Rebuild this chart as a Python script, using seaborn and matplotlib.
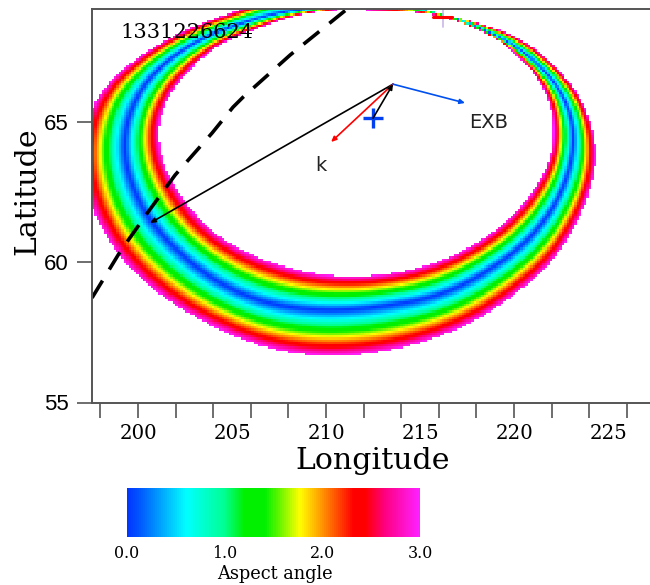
import numpy as np
import pandas as pd
import matplotlib
matplotlib.use('Agg')
import matplotlib.pyplot as plt
import seaborn as sns
from matplotlib.colors import LinearSegmentedColormap

# ring edges and aspect-angle minimum (lon, lat)
outer_lon = [211.01, 213.03, 215.53, 217.82, 220.16, 222.07, 223.51, 224.31, 224.36, 224.20, 223.67, 222.82,
             221.76, 220.69, 219.63, 218.56, 217.50, 215.69, 214.31, 211.01, 205.27, 203.30, 201.54, 200.48,
             199.20, 197.98, 197.40, 197.00, 197.45, 198.09, 199.15, 200.74, 202.50, 204.26, 206.91, 208.72]
outer_lat = [56.73, 56.87, 57.30, 57.94, 59.01, 60.08, 61.76, 63.18, 64.00, 64.71, 65.78, 66.50,
             67.21, 67.82, 68.17, 68.39, 68.57, 68.89, 69.10, 69.53, 68.89, 68.46, 67.92, 67.50,
             66.85, 66.14, 65.43, 64.00, 61.97, 61.26, 60.08, 59.12, 58.30, 57.69, 56.98, 56.76]
inner_lon = [211.01, 213.03, 215.16, 217.50, 219.26, 221.01, 221.91, 222.07, 222.07, 222.02, 221.38, 220.69,
             219.63, 218.56, 217.50, 216.76, 215.69, 214.31, 212.61, 210.21, 209.68, 208.09, 206.33, 204.52,
             202.77, 201.70, 201.01, 201.17, 201.54, 202.50, 203.72, 205.32, 207.45, 209.57]
inner_lat = [59.55, 59.62, 59.90, 60.54, 61.33, 62.58, 63.65, 64.18, 64.71, 65.43, 66.50, 66.96,
             67.67, 68.17, 68.39, 68.64, 68.81, 68.90, 68.92, 68.95, 68.92, 68.71, 68.28, 67.82,
             66.85, 66.03, 64.89, 64.00, 63.18, 62.22, 61.26, 60.54, 59.97, 59.62]
blue_lon = [211.01, 213.40, 216.06, 218.72, 221.01, 222.61, 223.14, 223.09, 222.45, 221.38, 220.16, 219.10,
            217.82, 216.06, 213.94, 211.01, 208.99, 207.18, 205.43, 203.67, 201.86, 200.48, 199.57, 199.20,
            199.47, 200.37, 201.97, 203.94, 206.06, 208.72]
blue_lat = [58.37, 58.55, 58.90, 59.83, 61.04, 62.68, 64.11, 65.18, 66.14, 66.96, 67.64, 68.03,
            68.39, 68.89, 69.08, 69.12, 68.99, 68.81, 68.46, 68.03, 67.32, 66.50, 65.43, 64.00,
            63.18, 61.76, 60.54, 59.47, 58.76, 58.40]

# dashed curve
curve_lon = [197.55, 199.04, 200.53, 201.97, 203.94, 205.05, 205.59, 208.09, 211.12]
curve_lat = [58.73, 60.37, 61.79, 63.11, 64.61, 65.53, 65.89, 67.39, 69.03]

# arrows
apex = (213.56, 66.35)
k_long_tip = (200.64, 61.40)
k_red_tip = (210.27, 64.29)
exb_tip = (217.39, 65.68)
site = (212.50, 65.14)

x_major = [198, 200, 202, 204, 206, 208, 210, 212, 214, 216, 218, 220, 222, 224, 226]
x_labels = [200, 205, 210, 215, 220, 225]
y_labels = [55, 60, 65]
cbar_labels = ['0.0', '1.0', '2.0', '3.0']

# colour scale stops from the colour bar
stops = [(0.0, '#0038ff'), (0.1, '#0050ff'), (0.6, '#00ffff'), (1.0, '#00ff90'), (1.2, '#00f000'), (1.42, '#00f000'),
         (1.77, '#ffff00'), (2.32, '#ff0000'), (2.45, '#ff0000'), (2.65, '#ff0080'), (3.0, '#ff20ff')]
cmap = LinearSegmentedColormap.from_list('aspect', [(v / 3.0, c) for v, c in stops], N=1024)

sns.set_style('white')
plt.rcParams.update({'text.color': 'k', 'xtick.color': 'k', 'ytick.color': 'k',
                     'xtick.bottom': True, 'ytick.left': True})
XMIN, XMAX, YMIN, YMAX = 197.55, 227.23, 55.0, 69.03
W, H = 650.0, 585.0


def to_polar(lon, lat, lon0=211.0, lat0=64.7):
    dx = np.asarray(lon) - lon0
    dy = (np.asarray(lat) - lat0) * 1.49
    return np.arctan2(dy, dx), np.hypot(dx, dy)


def radius_at(angle, lon, lat):
    # edge radius against angle, with the reading noise smoothed out
    a, r = to_polar(lon, lat)
    theta = np.linspace(-np.pi, np.pi, 720, endpoint=False)
    dense = np.interp(theta, a, r, period=2 * np.pi)
    kernel = np.exp(-0.5 * (np.arange(-30, 31) / 10.0) ** 2)
    kernel /= kernel.sum()
    smooth = np.convolve(np.r_[dense[-30:], dense, dense[:30]], kernel, mode='valid')
    return np.interp(angle, theta, smooth, period=2 * np.pi)


# cells of the aspect angle map
lons = np.arange(XMIN + 0.065, XMAX, 0.13)
lats = np.arange(YMAX - 0.04, YMIN, -0.08)
grid_lon, grid_lat = np.meshgrid(lons, lats)
ang, rad = to_polar(grid_lon, grid_lat)
r_out = radius_at(ang, outer_lon, outer_lat)
r_in = radius_at(ang, inner_lon, inner_lat)
r_blue = radius_at(ang, blue_lon, blue_lat)
field = np.where(rad >= r_blue, (rad - r_blue) / (r_out - r_blue), (r_blue - rad) / (r_blue - r_in)) * 3.0
field[(rad > r_out) | (rad < r_in)] = np.nan
field_df = pd.DataFrame(field, index=lats, columns=lons)

fig = plt.figure(figsize=(6.5, 5.85), dpi=100)
rect = [92 / W, (H - 402.5) / H, 558 / W, 393.5 / H]

ax_map = fig.add_axes(rect)
sns.heatmap(field_df, ax=ax_map, cmap=cmap, vmin=0, vmax=3, cbar=False, xticklabels=False, yticklabels=False)
ax_map.set_xlabel('')
ax_map.set_ylabel('')
ax_map.axis('off')

ax = fig.add_axes(rect)
ax.patch.set_alpha(0)
ax.set_xlim(XMIN, XMAX)
ax.set_ylim(YMIN, YMAX)

sns.lineplot(x=curve_lon, y=curve_lat, sort=False, estimator=None, color='k', lw=2.6, ax=ax)
ax.lines[-1].set_linestyle((0, (5.6, 3.6)))
ax.lines[-1].set_dash_capstyle('butt')


def arrow(start, end, color):
    ax.annotate('', xy=end, xytext=start,
                arrowprops=dict(arrowstyle='-|>,head_length=0.3,head_width=0.14', color=color, lw=1.2,
                                shrinkA=0, shrinkB=0))


arrow(apex, k_long_tip, 'k')
arrow(apex, k_red_tip, '#ff0000')
arrow(apex, exb_tip, '#0050f0')
arrow(site, apex, 'k')
ax.plot(*site, marker='+', ms=15, mew=2.4, color='#0040f0')
ax.plot([216.2, 216.2], [69.03, 68.39], color='#c8b8e8', lw=1.2)
ax.plot([215.7, 216.7], [68.74, 68.74], color='#ff0000', lw=2.2)

ax.text(202.58, 68.2, '1331226624', family='DejaVu Serif', fontsize=15, ha='center', va='center')
ax.text(209.73, 63.45, 'k', fontsize=14, color='#222222', ha='center', va='center')
ax.text(218.64, 65.0, 'EXB', fontsize=14, color='#222222', ha='center', va='center')

ax.spines['right'].set_visible(False)
for side in ['left', 'bottom', 'top']:
    ax.spines[side].set_color('#555555')
    ax.spines[side].set_linewidth(1.4)

ax.set_xticks(x_major)
ax.set_xticklabels([])
ax.tick_params(axis='x', which='major', bottom=True, length=10.5, width=1.2, color='#555555', direction='out')
ax.xaxis.remove_overlapping_locs = False
ax.set_xticks(x_labels, minor=True)
ax.set_xticklabels([str(v) for v in x_labels], minor=True, family='DejaVu Serif', fontsize=14.2)
ax.tick_params(axis='x', which='minor', bottom=True, length=0, pad=15.5)

ax.set_yticks(y_labels)
ax.set_yticklabels([str(v) for v in y_labels], family='Liberation Sans', fontsize=16)
ax.tick_params(axis='y', left=True, length=11, width=1.2, color='#555555', direction='out', pad=5.5)

fig.text(373 / W, 1 - 461 / H, 'Longitude', family='DejaVu Serif', fontsize=21.6, ha='center', va='center')
fig.text(27 / W, 1 - 191 / H, 'Latitude', family='DejaVu Serif', fontsize=21.6, rotation=90, ha='center', va='center')

# colour bar
ax_bar = fig.add_axes([127 / W, (H - 537) / H, 293 / W, 49 / H])
sns.heatmap(np.linspace(0, 3, 146).reshape(1, -1), ax=ax_bar, cmap=cmap, vmin=0, vmax=3, cbar=False,
            xticklabels=False, yticklabels=False)
ax_bar.set_xticks([])
ax_bar.set_yticks([])
ax_bar.axis('off')

for frac, label in zip([0, 1 / 3, 2 / 3, 1], cbar_labels):
    fig.text((127 + 293 * frac) / W, 1 - 554 / H, label, family='DejaVu Serif', fontsize=11.4, ha='center', va='center')
fig.text(274.5 / W, 1 - 574 / H, 'Aspect angle', family='DejaVu Serif', fontsize=12.8, ha='center', va='center')

fig.savefig('out.png', dpi=100)
